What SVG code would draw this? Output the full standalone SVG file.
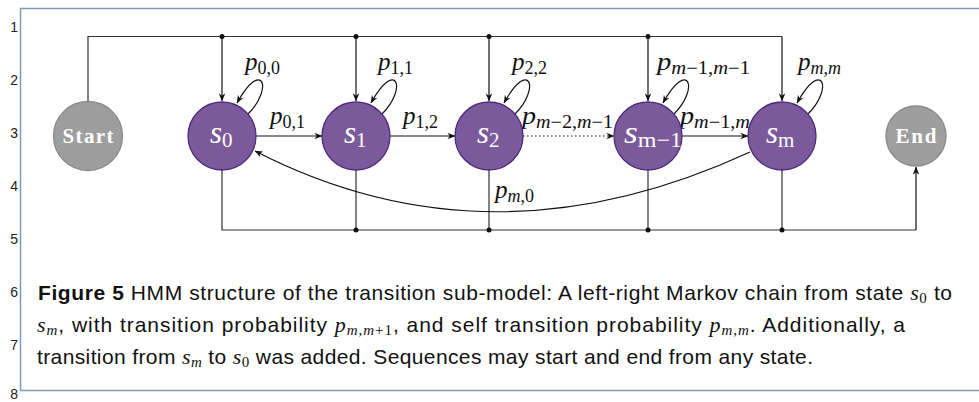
<svg xmlns="http://www.w3.org/2000/svg" width="979" height="402" viewBox="0 0 979 402">
<style>
.bus{fill:none;stroke:#333;stroke-width:1.2}
.arr{fill:none;stroke:#111;stroke-width:1.2;marker-end:url(#ah)}
.dot{fill:#111}
.st{fill:#7b5a9b;stroke:#4f2a7c;stroke-width:1.3}
.gr{fill:#9e9e9e;stroke:#8a8a8a;stroke-width:1.3}
.nl{font-family:"Liberation Serif",serif;font-style:italic;fill:#fff;font-size:31px}
.ns{font-style:normal;font-size:21px}
.gl{font-family:"Liberation Serif",serif;font-weight:bold;fill:#fff;font-size:21px}
.el{font-family:"Liberation Serif",serif;font-style:italic;fill:#111;font-size:25px}
.es{font-style:normal;font-size:18px}
.ei{font-style:italic}
.ln{font-family:"Liberation Sans",sans-serif;font-size:14px;fill:#222;text-anchor:end}
.cap{font-family:"Liberation Sans",sans-serif;font-size:21px;fill:#111}
.m{font-family:"Liberation Serif",serif;font-style:italic;font-size:22px}
.ms{font-family:"Liberation Serif",serif;font-style:normal;font-size:15px}
.mi{font-family:"Liberation Serif",serif;font-style:italic;font-size:15px}
</style>
<defs>
<marker id="ah" viewBox="0 0 10 8" refX="9.5" refY="4" markerWidth="8" markerHeight="6.4" orient="auto" markerUnits="userSpaceOnUse"><path d="M0,0 L10,4 L0,8 L3,4 z" fill="#111"/></marker>
</defs>
<path d="M979,8.5 H20.5 V390.5 H979" fill="none" stroke="#7e9bb8" stroke-width="1.5"/>
<g id="linenumbers">
<text class="ln" x="18" y="32">1</text>
<text class="ln" x="18" y="85">2</text>
<text class="ln" x="18" y="138">3</text>
<text class="ln" x="18" y="191">4</text>
<text class="ln" x="18" y="244">5</text>
<text class="ln" x="18" y="297">6</text>
<text class="ln" x="18" y="350">7</text>
<text class="ln" x="18" y="399" font-size="12">8</text>
</g>
<g id="connectors">
<path class="bus" d="M88,101 V36.5 H782"/>
<path class="arr" d="M782,36.5 V101"/>
<path class="arr" d="M222,36.5 V101"/>
<path class="arr" d="M356,36.5 V101"/>
<path class="arr" d="M489,36.5 V101"/>
<path class="arr" d="M648,36.5 V101"/>
<circle class="dot" cx="222" cy="36.5" r="2.5"/>
<circle class="dot" cx="356" cy="36.5" r="2.5"/>
<circle class="dot" cx="489" cy="36.5" r="2.5"/>
<circle class="dot" cx="648" cy="36.5" r="2.5"/>
<path class="bus" d="M222,170 V230 H916"/>
<path class="arr" d="M916,230 V167"/>
<path class="bus" d="M356,170 V230 M489,170 V230 M648,170 V230 M782,170 V230"/>
<circle class="dot" cx="356" cy="230" r="2.5"/>
<circle class="dot" cx="489" cy="230" r="2.5"/>
<circle class="dot" cx="648" cy="230" r="2.5"/>
<circle class="dot" cx="782" cy="230" r="2.5"/>
<path class="arr" d="M256,136 H322"/>
<path class="arr" d="M390,136 H455"/>
<path class="arr" d="M523,136 H614" stroke-dasharray="1.5 2.5"/>
<path class="arr" d="M682,136 H748"/>
<path class="arr" d="M750,152 Q490,272 255,151"/>
<path class="arr" d="M248,114 C274,88 262,58 237,103"/>
<path class="arr" d="M382,114 C408,88 396,58 371,103"/>
<path class="arr" d="M515,114 C541,88 529,58 504,103"/>
<path class="arr" d="M674,114 C700,88 688,58 663,103"/>
<path class="arr" d="M808,114 C834,88 822,58 797,103"/>
</g>
<g id="edge-labels">
<text class="el" x="245" y="70">p<tspan class="es" dy="4">0,0</tspan></text>
<text class="el" x="270" y="124">p<tspan class="es" dy="4">0,1</tspan></text>
<text class="el" x="378" y="70">p<tspan class="es" dy="4">1,1</tspan></text>
<text class="el" x="403" y="124">p<tspan class="es" dy="4">1,2</tspan></text>
<text class="el" x="512" y="70">p<tspan class="es" dy="4">2,2</tspan></text>
<text class="el" x="522" y="124" textLength="91" lengthAdjust="spacingAndGlyphs">p<tspan class="es ei" dy="4">m</tspan><tspan class="es">−2,</tspan><tspan class="es ei">m</tspan><tspan class="es">−1</tspan></text>
<text class="el" x="495" y="198">p<tspan class="es ei" dy="4">m</tspan><tspan class="es">,0</tspan></text>
<text class="el" x="657" y="70" textLength="93" lengthAdjust="spacingAndGlyphs">p<tspan class="es ei" dy="4">m</tspan><tspan class="es">−1,</tspan><tspan class="es ei">m</tspan><tspan class="es">−1</tspan></text>
<text class="el" x="680" y="124" textLength="70" lengthAdjust="spacingAndGlyphs">p<tspan class="es ei" dy="4">m</tspan><tspan class="es">−1,</tspan><tspan class="es ei">m</tspan></text>
<text class="el" x="798" y="70">p<tspan class="es ei" dy="4">m</tspan><tspan class="es">,</tspan><tspan class="es ei">m</tspan></text>
</g>
<g id="start">
<circle class="gr" cx="88" cy="136" r="34.5"/>
<text class="gl" x="88" y="143" text-anchor="middle" textLength="51">Start</text>
</g>
<g id="s0">
<circle class="st" cx="222" cy="136" r="34"/>
<text class="nl" x="210" y="143">s<tspan class="ns" dy="4">0</tspan></text>
</g>
<g id="s1">
<circle class="st" cx="356" cy="136" r="34"/>
<text class="nl" x="344" y="143">s<tspan class="ns" dy="4">1</tspan></text>
</g>
<g id="s2">
<circle class="st" cx="489" cy="136" r="34"/>
<text class="nl" x="477" y="143">s<tspan class="ns" dy="4">2</tspan></text>
</g>
<g id="sm-1">
<circle class="st" cx="648" cy="136" r="34"/>
<text class="nl" x="624" y="143" textLength="58" lengthAdjust="spacingAndGlyphs">s<tspan class="ns" font-style="italic" dy="4">m</tspan><tspan class="ns">−1</tspan></text>
</g>
<g id="sm">
<circle class="st" cx="782" cy="136" r="34"/>
<text class="nl" x="766" y="143">s<tspan class="ns" font-style="italic" dy="4">m</tspan></text>
</g>
<g id="end">
<circle class="gr" cx="916" cy="136" r="30"/>
<text class="gl" x="916" y="143" text-anchor="middle" textLength="41">End</text>
</g>
<g id="caption">
<text class="cap" x="38" y="300" textLength="914"><tspan font-weight="bold">Figure 5</tspan> HMM structure of the transition sub-model: A left-right Markov chain from state <tspan class="m">s</tspan><tspan class="ms" dy="3">0</tspan><tspan dy="-3"> to</tspan></text>
<text class="cap" x="37" y="332" textLength="868"><tspan class="m">s</tspan><tspan class="mi" dy="3">m</tspan><tspan dy="-3">, with transition probability </tspan><tspan class="m">p</tspan><tspan class="mi" dy="3">m</tspan><tspan class="ms">,</tspan><tspan class="mi">m</tspan><tspan class="ms">+1</tspan><tspan dy="-3">, and self transition probability </tspan><tspan class="m">p</tspan><tspan class="mi" dy="3">m</tspan><tspan class="ms">,</tspan><tspan class="mi">m</tspan><tspan dy="-3">. Additionally, a</tspan></text>
<text class="cap" x="37" y="364" textLength="776">transition from <tspan class="m">s</tspan><tspan class="mi" dy="3">m</tspan><tspan dy="-3"> to </tspan><tspan class="m">s</tspan><tspan class="ms" dy="3">0</tspan><tspan dy="-3"> was added. Sequences may start and end from any state.</tspan></text>
</g>
</svg>
